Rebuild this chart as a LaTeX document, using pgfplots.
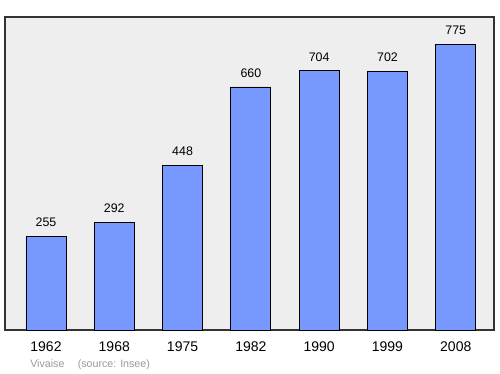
\documentclass[border=0pt]{standalone}
\usepackage{pgfplots}
\pgfplotsset{compat=1.18}
\usepackage{fontspec}
\setmainfont{Liberation Sans}
\definecolor{bg}{RGB}{238,238,238}
\definecolor{barc}{RGB}{119,153,255}
\begin{document}
\begin{tikzpicture}[x=0.75pt,y=0.75pt]
\begin{axis}[
  scale only axis,
  width=366.75pt, height=234.75pt,
  xmin=-0.6, xmax=6.56, ymin=0, ymax=850,
  axis background/.style={fill=bg},
  axis line style={draw=black!80, line width=0.9pt},
  xtick=data,
  xticklabels={1962,1968,1975,1982,1990,1999,2008},
  ytick=\empty,
  major tick length=0pt,
  xticklabel style={font=\fontsize{10.5}{12}\selectfont, yshift=-5.5pt},
  /pgf/number format/assume math mode=true,
  ybar, bar width=30pt,
  nodes near coords,
  every node near coord/.append style={font=\fontsize{9.3}{10}\selectfont, black, yshift=3.5pt},
  clip=false,
]
\addplot[fill=barc, draw=black, line width=0.6pt] coordinates {
(0,255) (1,292) (2,448) (3,660) (4,704) (5,702) (6,775)};
\end{axis}
\node[anchor=west, text=black!40, font=\fontsize{8}{9}\selectfont, inner sep=0pt] at (25,-35) {Vivaise\hspace{10pt}(source: Insee)};
\useasboundingbox (-5,-44) rectangle (495,330);
\end{tikzpicture}
\end{document}
